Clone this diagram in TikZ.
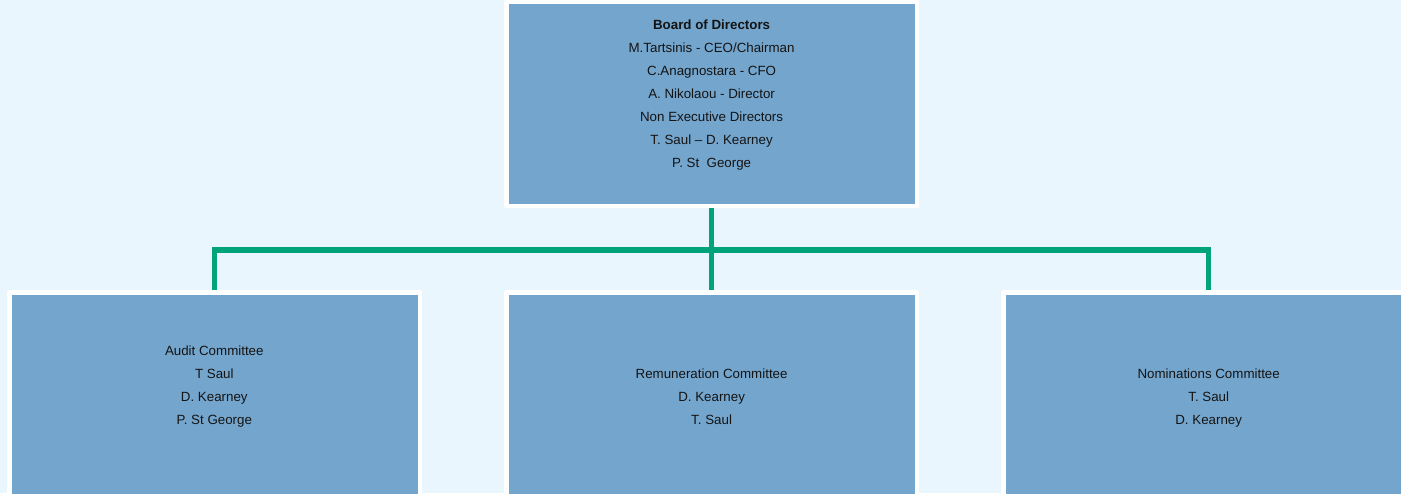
\documentclass[tikz,border=0pt]{standalone}
\usepackage{fontspec}
\setmainfont{Liberation Sans}
\definecolor{bgc}{RGB}{234,246,254}
\definecolor{boxc}{RGB}{116,165,205}
\definecolor{linec}{RGB}{0,163,122}
\definecolor{txtc}{RGB}{20,20,20}
\pgfdeclarelayer{bgl}
\pgfdeclarelayer{lines}
\pgfsetlayers{bgl,lines,main}
\begin{document}
\begin{tikzpicture}[x=0.75pt,y=-0.75pt,
  box/.style={rectangle, fill=boxc, draw=white, line width=3.375pt, line join=round,
    minimum width=307.8pt, minimum height=153.3pt, inner sep=0pt},
  lowbox/.style={box, minimum height=165pt},
  txt/.style={anchor=north, align=center, inner sep=0pt, text=txtc,
    font=\fontsize{10pt}{17.25pt}\selectfont},
  conn/.style={draw=linec, line width=3.9pt, line cap=butt, line join=miter}]
\begin{pgfonlayer}{bgl}
\fill[bgc] (0,0) rectangle (1401,493);
\end{pgfonlayer}
\useasboundingbox (0,0) rectangle (1401,493);

\node[box] (board) at (711.6,104) {};
\node[lowbox] (audit) at (214.6,402.6) {};
\node[lowbox] (remun) at (711.6,402.6) {};
\node[lowbox] (nomin) at (1208.7,402.6) {};

\node[txt] (boardtxt) at (711.6,19.7) {\textbf{Board of Directors}\\M.Tartsinis - CEO/Chairman\\C.Anagnostara - CFO\\A. Nikolaou - Director\\Non Executive Directors\\T. Saul -- D. Kearney\\P. St~~George};
\node[txt] (audittxt) at (214.3,345.7) {Audit Committee\\T Saul\\D. Kearney\\P. St George};
\node[txt] (remuntxt) at (711.6,368.7) {Remuneration Committee\\D. Kearney\\T. Saul};
\node[txt] (nomintxt) at (1208.7,368.7) {Nominations Committee\\T. Saul\\D. Kearney};

\coordinate (bus) at (711.6,250);
\begin{pgfonlayer}{lines}
\draw[conn] (board.south) -- (remun.north);
\draw[conn] (audit.north) |- (bus) -| (nomin.north);
\end{pgfonlayer}
\end{tikzpicture}
\end{document}
